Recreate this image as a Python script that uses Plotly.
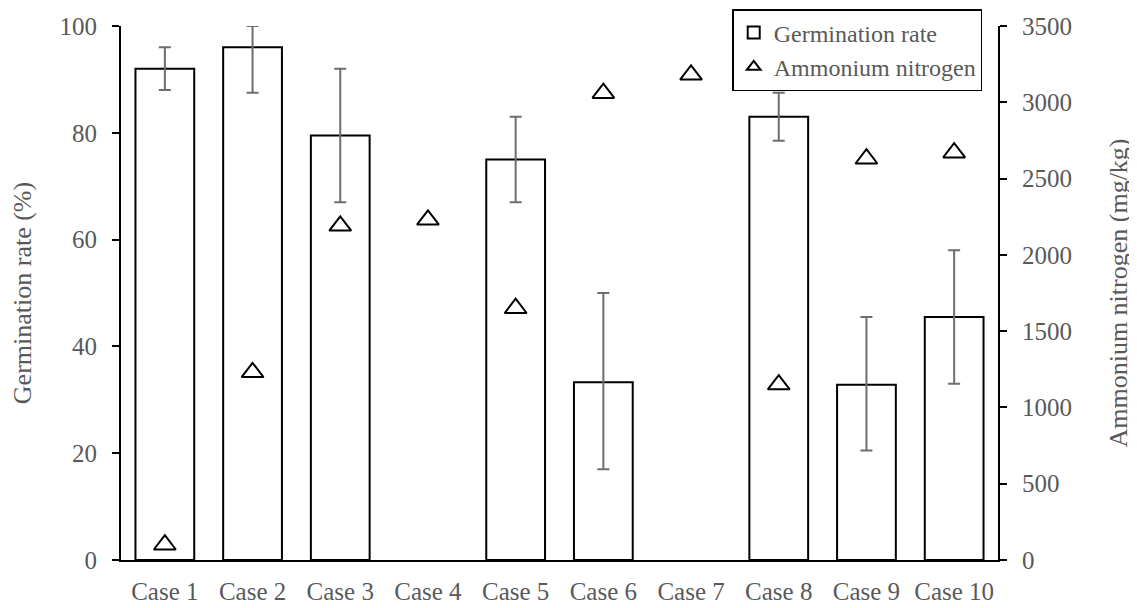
import plotly.graph_objects as go

categories = ["Case 1", "Case 2", "Case 3", "Case 4", "Case 5",
              "Case 6", "Case 7", "Case 8", "Case 9", "Case 10"]
germination = [92.0, 96.0, 79.5, None, 75.0, 33.3, None, 83.0, 32.8, 45.5]
germ_err_plus = [4.0, 4.0, 12.5, 0, 8.0, 16.7, 0, 4.5, 12.7, 12.5]
germ_err_minus = [4.0, 8.5, 12.5, 0, 8.0, 16.3, 0, 4.5, 12.3, 12.5]
ammonium = [100, 1230, 2190, 2230, 1650, 3060, 3180, 1150, 2630, 2670]

FONT = "Liberation Serif"
GRAY = "#595959"
TICK_SIZE = 25
TITLE_SIZE = 26
LEGEND_SIZE = 24

fig = go.Figure()
fig.add_trace(go.Bar(
    x=categories, y=germination, name="Germination rate",
    marker=dict(color="white", line=dict(color="black", width=2)),
    error_y=dict(type="data", symmetric=False, array=germ_err_plus,
                 arrayminus=germ_err_minus, color="#6e6e6e",
                 thickness=2, width=6),
    yaxis="y",
))
fig.add_trace(go.Scatter(
    x=categories, y=ammonium, name="Ammonium nitrogen", mode="markers",
    marker=dict(symbol="triangle-up-open", size=19, color="black",
                line=dict(color="black", width=2)),
    yaxis="y2",
))

# page body has an 8px margin, so the figure is 8px smaller on each axis
fig.update_layout(
    width=1129, height=600,
    margin=dict(l=113, r=139, t=18, b=48, autoexpand=False),
    plot_bgcolor="white", paper_bgcolor="white",
    font=dict(family=FONT, size=TICK_SIZE, color=GRAY),
    bargap=0.33,
    showlegend=True,
    legend=dict(x=0.982, y=1.0318, xanchor="right", yanchor="top",
                bordercolor="black", borderwidth=1.5, bgcolor="white",
                font=dict(family=FONT, size=LEGEND_SIZE, color=GRAY),
                itemsizing="constant", tracegroupgap=0, itemwidth=30),
    xaxis=dict(showline=True, linecolor="black", linewidth=2,
               ticks="", tickfont=dict(size=TICK_SIZE, color=GRAY),
               ticklabelstandoff=8,
               range=[-0.5, 9.5], showgrid=False),
    yaxis=dict(range=[0, 100], dtick=20, showline=True, linecolor="black",
               linewidth=2, ticks="outside", ticklen=7, tickwidth=2,
               tickcolor="black", showgrid=False, zeroline=False,
               ticklabelstandoff=10,
               title=dict(text="Germination rate (%)",
                          font=dict(size=TITLE_SIZE, color=GRAY), standoff=32),
               tickfont=dict(size=TICK_SIZE, color=GRAY)),
    yaxis2=dict(range=[0, 3500], dtick=500, overlaying="y", side="right",
                showline=True, linecolor="black", linewidth=2,
                ticks="outside", ticklen=7, tickwidth=2, tickcolor="black",
                showgrid=False, zeroline=False,
                ticklabelstandoff=10,
                title=dict(text="Ammonium nitrogen (mg/kg)",
                           font=dict(size=TITLE_SIZE, color=GRAY), standoff=38),
                tickfont=dict(size=TICK_SIZE, color=GRAY)),
)

fig.write_html("out.html")
